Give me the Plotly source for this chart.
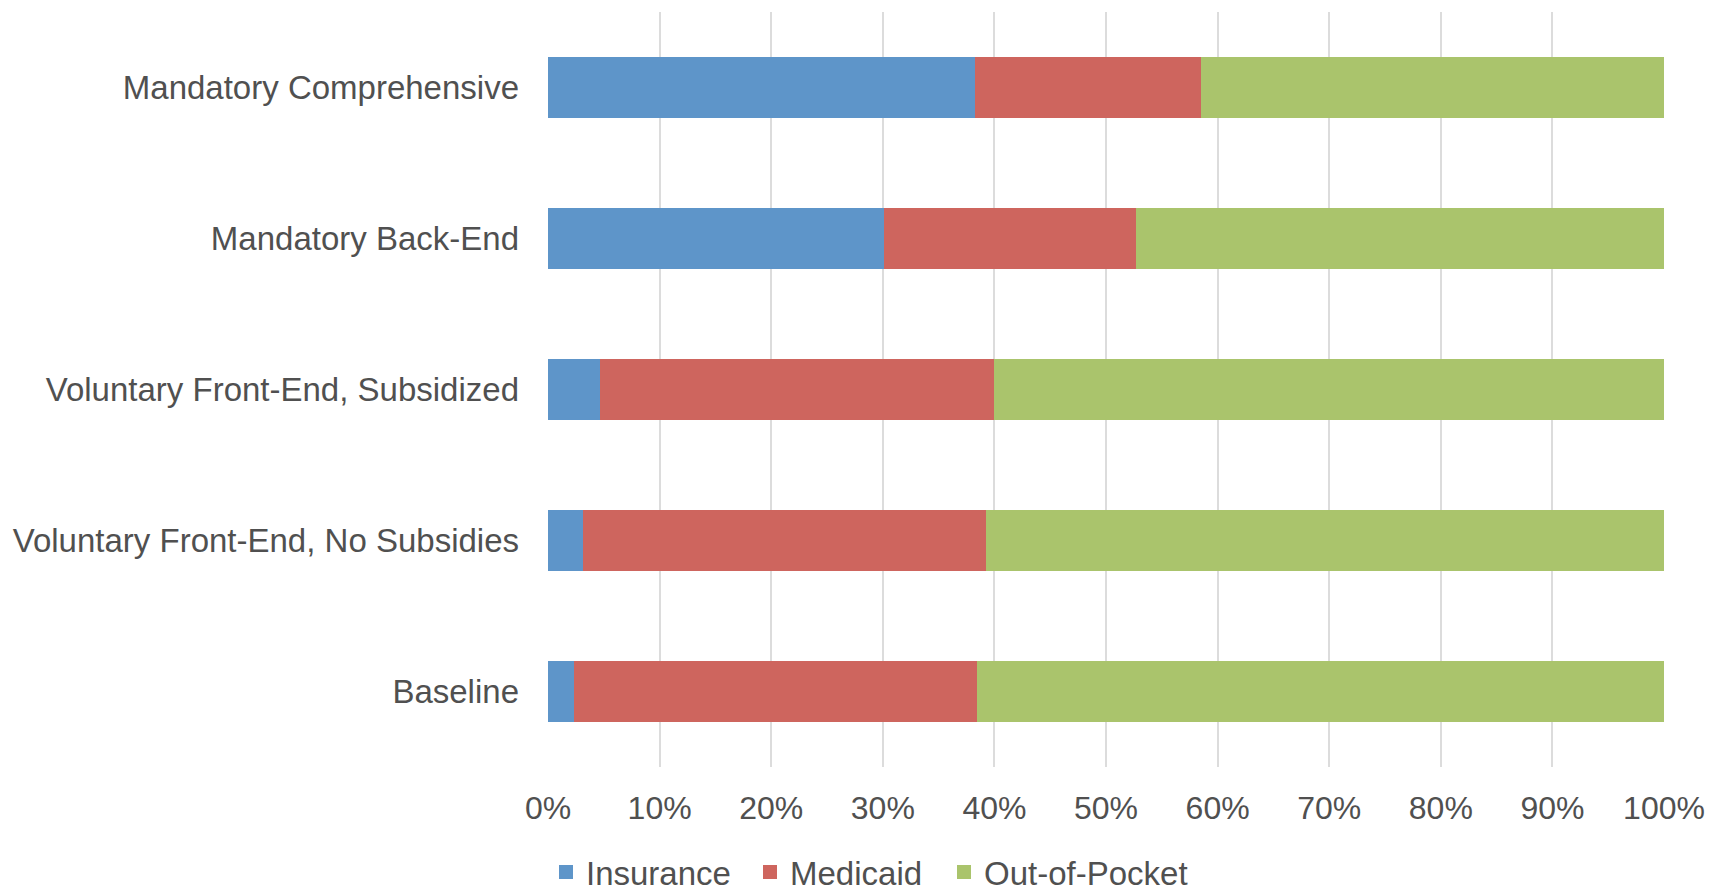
import plotly.graph_objects as go

categories = [
    "Mandatory Comprehensive",
    "Mandatory Back-End",
    "Voluntary Front-End, Subsidized",
    "Voluntary Front-End, No Subsidies",
    "Baseline",
]
insurance = [38.35, 30.2, 4.73, 3.26, 2.43]
medicaid = [20.27, 22.58, 35.3, 36.08, 36.12]
out_of_pocket = [41.38, 47.22, 59.97, 60.66, 61.45]
x_ticks = [0, 10, 20, 30, 40, 50, 60, 70, 80, 90, 100]
x_tick_labels = [f"{v}%" for v in x_ticks]

series = [
    ("Insurance", insurance, "#5E95C9", "legend"),
    ("Medicaid", medicaid, "#CE655E", "legend2"),
    ("Out-of-Pocket", out_of_pocket, "#AAC46C", "legend3"),
]

FONT = "Liberation Sans, Arial, sans-serif"
TEXT = "#505050"
W, H = 1717, 892

fig = go.Figure()
for name, vals, color, leg in series:
    fig.add_trace(go.Bar(
        y=categories, x=vals, name=name, orientation="h",
        marker=dict(color=color, line=dict(width=2, color=color)),
        legend=leg, showlegend=True,
    ))


def legend_at(px):
    return dict(
        orientation="h", xref="container", yref="container",
        x=px / W, xanchor="left", y=1 - 872 / H, yanchor="middle",
        font=dict(size=33, color=TEXT, family=FONT),
        bgcolor="rgba(0,0,0,0)", borderwidth=0,
    )


fig.update_layout(
    width=W, height=H, showlegend=True,
    barmode="stack", bargap=0.605,
    paper_bgcolor="white", plot_bgcolor="white",
    margin=dict(l=548, r=51, t=12, b=125),
    font=dict(family=FONT, color=TEXT, size=33),
    legend=legend_at(546),
    legend2=legend_at(750),
    legend3=legend_at(944),
    xaxis=dict(
        range=[0, 100], tickvals=x_ticks, ticktext=x_tick_labels,
        showgrid=True, gridcolor="#DCDCDC", gridwidth=2,
        zeroline=False, showline=False, ticks="",
        tickfont=dict(size=32, color=TEXT, family=FONT),
        ticklabelstandoff=19,
    ),
    yaxis=dict(
        categoryorder="array", categoryarray=categories,
        autorange="reversed", showgrid=False, zeroline=False,
        showline=False, ticks="",
        tickfont=dict(size=33, color=TEXT, family=FONT),
        ticklabelstandoff=28,
    ),
)

fig.write_html("out.html")
